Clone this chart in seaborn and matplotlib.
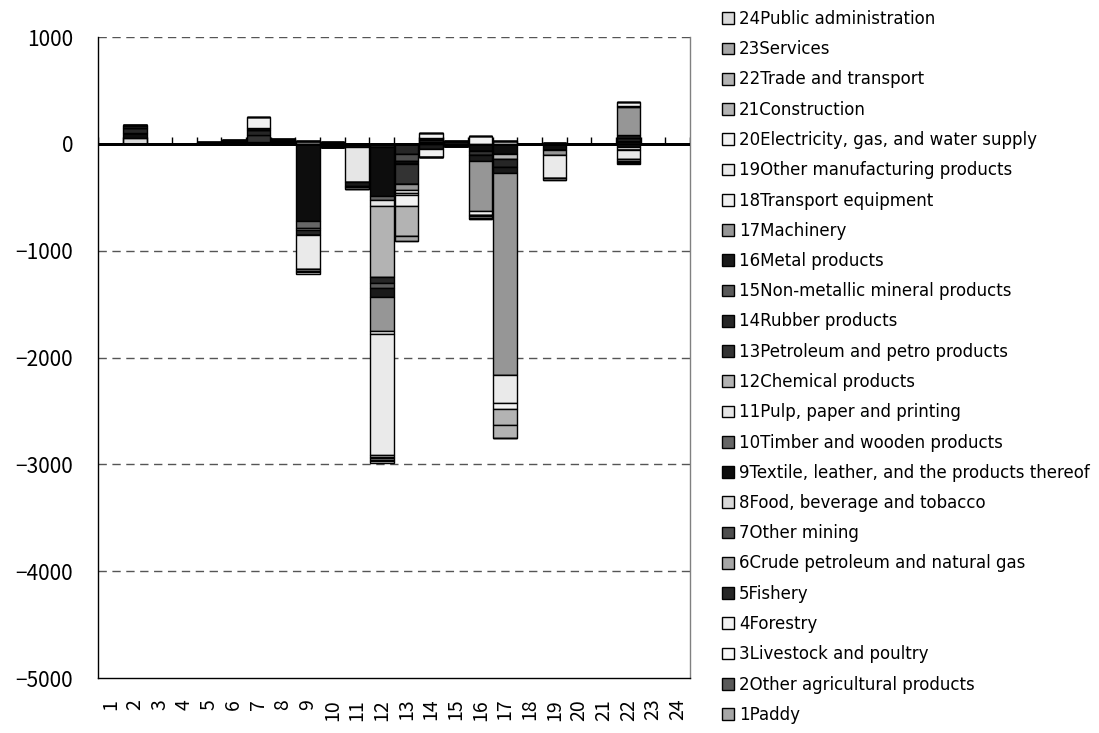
import numpy as np
import matplotlib
matplotlib.use("Agg")
import matplotlib.pyplot as plt
from matplotlib.patches import Patch
import seaborn as sns

# sectors (x categories and stacked series share the same 24 sectors)
sectors = ["Paddy", "Other agricultural products", "Livestock and poultry", "Forestry",
           "Fishery", "Crude petroleum and natural gas", "Other mining",
           "Food, beverage and tobacco", "Textile, leather, and the products thereof",
           "Timber and wooden products", "Pulp, paper and printing", "Chemical products",
           "Petroleum and petro products", "Rubber products", "Non-metallic mineral products",
           "Metal products", "Machinery", "Transport equipment",
           "Other manufacturing products", "Electricity, gas, and water supply",
           "Construction", "Trade and transport", "Services", "Public administration"]
categories = [str(i) for i in range(1, 25)]

# contribution of each series to each category
#         1    2  3  4   5   6    7   8     9    10    11     12     13   14   15   16     17  18   19  20  21   22  23  24
s1  = [   0,   0, 0, 0,  0,  0,   0,  0,    0,    0,    0,   -25,     0,   0,   0,   0,     0, 0,   0, 0, 0,   0, 0, 0]
s2  = [   0,   0, 0, 0,  0,  0,   0,  0,    0,    0,    0,     0,     0,   0,   0,   0,     0, 0,   0, 0, 0,   0, 0, 0]
s3  = [   0,   0, 0, 0,  0,  0,   0,  0,    0,    0,    0,     0,     0,   0,   0,   0,     0, 0,   0, 0, 0,   0, 0, 0]
s4  = [   0,   0, 0, 0,  0,  0,   0,  0,    0,    0,    0,     0,     0,   0,   0,   0,     0, 0,   0, 0, 0,   0, 0, 0]
s5  = [   0,   0, 0, 0,  0,  0,   0,  0,    0,    0,    0,     0,   -93,   0,   0,   0,     0, 0,   0, 0, 0, -31, 0, 0]
s6  = [   0,   0, 0, 0,  0,  0,   0,  0,    0,    0,    0,     0,     0,   0,   0,   0,     0, 0,   0, 0, 0,   0, 0, 0]
s7  = [   0,   0, 0, 0,  0,  0,   0,  0,    0,    0,    0,     0,   -72,   0,   0,   0,     0, 0,   0, 0, 0,   0, 0, 0]
s8  = [   0,  56, 0, 0,  0,  0,  22,  0,    0,    0,    0,     0,     0,   0,   0,   0,     0, 0,   0, 0, 0,   0, 0, 0]
s9  = [   0,  50, 0, 0,  0, 20,   0, 25, -726,  -30,  -25,  -467,   -22,  15, -20, -69,   -93, 0, -62, 0, 0,  30, 0, 0]
s10 = [   0,   0, 0, 0,  0,  0,   0,  0,  -59,    0,    0,   -37,     0,   0,   0,   0,     0, 0,   0, 0, 0,   0, 0, 0]
s11 = [   0,   0, 0, 0,  0,  0,   0,  0,  -19,    0, -335,   -56,     0,   0,   0,   0,     0, 0,   0, 0, 0, -25, 0, 0]
s12 = [   0,   0, 0, 0,  0,  0,   0,  0,    0,    0,    0,  -661,     0,   0,   0,   0,   -53, 0,   0, 0, 0,   0, 0, 0]
s13 = [   0,   0, 0, 0,  0,  0,  65,  0,    0,    0,    0,     0,  -187,  22,   0, -40,     0, 0,   0, 0, 0,   0, 0, 0]
s14 = [   0,  40, 0, 0,  0,  0,  44,  0,  -53,    0,    0,   -56,     0,  15,   0,   0,   -72, 0,   0, 0, 0,  25, 0, 0]
s15 = [   0,   0, 0, 0,  0,  0,   0,  0,    0,    0,    0,   -47,     0,   0,   0,   0,     0, 0,   0, 0, 0,   0, 0, 0]
s16 = [   0,  35, 0, 0, 15, 20,  18, 25,    0,   15,  -30,   -87,     0, -47,  30, -47,   -56, 0,  12, 0, 0,  29, 0, 0]
s17 = [   0,   0, 0, 0,  0,  0,   0,  0,   25,    0,  -15,  -318,   -62,   0,   0, -470, -1891, 0, -40, 0, 0, 259, 0, 0]
s18 = [   0,   0, 0, 0,  0,  0,   0,  0,    0,    0,    0,   -22,   -20, -72,   0, -37,    30, 0,   0, 0, 0,  15, 0, 0]
s19 = [   0,   0, 0, 0,  0,  0,   0,  0, -312,    0,    0, -1140,   -20,   0,   0,   0,  -259, 0,-218, 0, 0, -90, 0, 0]
s20 = [   0,   0, 0, 0,  0,  0, 100,  0,    0,    0,    0,   -13,  -109,  45,   0,  69,   -60, 0,   0, 0, 0,  30, 0, 0]
s21 = [   0,   0, 0, 0,  0,  0,   0,  0,    0,    0,    0,   -13,  -280,   0,   0, -15,  -147, 0,   0, 0, 0, -12, 0, 0]
s22 = [   0,   0, 0, 0,  0,  0,   0,  0,  -20,    0,  -20,   -13,     0,   0,   0, -12,  -118, 0,   0, 0, 0, -12, 0, 0]
s23 = [   0,   0, 0, 0,  0,  0,   0,  0,  -15,    0,    0,   -14,   -40,  -6,   0, -10,     0, 0, -22, 0, 0, -12, 0, 0]
s24 = [   0,   0, 0, 0,  0,  0,   0,  0,  -10,    0,    0,   -20,     0,   0,   0,   0,     0, 0,   0, 0, 0, -11, 0, 0]

series = [s1, s2, s3, s4, s5, s6, s7, s8, s9, s10, s11, s12,
          s13, s14, s15, s16, s17, s18, s19, s20, s21, s22, s23, s24]

colors = ["#a6a6a6", "#595959", "#fafafa", "#f2f2f2", "#262626", "#a6a6a6",
          "#4d4d4d", "#d9d9d9", "#0d0d0d", "#666666", "#e6e6e6", "#b3b3b3",
          "#333333", "#262626", "#595959", "#1a1a1a", "#969696", "#f0f0f0",
          "#eaeaea", "#f2f2f2", "#b3b3b3", "#b3b3b3", "#a6a6a6", "#d9d9d9"]

sns.set_style("white")
plt.rcParams["font.family"] = ["Noto Sans CJK JP", "DejaVu Sans"]
plt.rcParams["text.color"] = "black"

fig = plt.figure(figsize=(10.99, 7.33), dpi=100)
ax = fig.add_axes([0.0892, 0.075, 0.5387, 0.8745])

x = np.arange(1, 25)
pos_bottom = np.zeros(24)
neg_bottom = np.zeros(24)
for vals, col in zip(series, colors):
    v = np.array(vals, dtype=float)
    pos = np.where(v > 0, v, 0)
    neg = np.where(v < 0, v, 0)
    ax.bar(x, pos, bottom=pos_bottom, width=0.96, color=col,
           edgecolor="black", linewidth=1.0, zorder=3)
    ax.bar(x, neg, bottom=neg_bottom, width=0.96, color=col,
           edgecolor="black", linewidth=1.0, zorder=3)
    pos_bottom += pos
    neg_bottom += neg

ax.set_xlim(0.5, 24.5)
ax.set_ylim(-5000, 1000)
ax.set_yticks(range(-5000, 1001, 1000))
ax.tick_params(axis="y", direction="out", length=5, width=1, pad=13,
               labelsize=15, colors="black")
ax.set_xticks(x)
ax.set_xticklabels(categories, rotation=90, fontsize=14)
ax.tick_params(axis="x", length=0, pad=15, colors="black")

# dashed gridlines
for yv in [1000, -1000, -2000, -3000, -4000]:
    ax.axhline(yv, color="#555555", linestyle=(0, (6, 4)), linewidth=1, zorder=1)
ax.axhline(0, color="black", linewidth=1, zorder=4)
# category boundary ticks on the zero line
ax.vlines(np.arange(0.5, 25, 1), 0, 65, color="black", linewidth=1, zorder=4)

ax.spines["top"].set_visible(False)
ax.spines["right"].set_color("#808080")
ax.spines["left"].set_color("black")
ax.spines["bottom"].set_color("black")
for s in ["left", "bottom", "right"]:
    ax.spines[s].set_linewidth(1)

handles = [Patch(facecolor=c, edgecolor="black", linewidth=1.0) for c in colors]
labels = [f"{i}{name}" for i, name in enumerate(sectors, start=1)]
leg = fig.legend(handles[::-1], labels[::-1], loc="upper left", bbox_to_anchor=(0.648, 1.0),
                 frameon=False, prop={"family": "DejaVu Sans", "size": 12},
                 labelspacing=0.735, handlelength=0.7, handleheight=0.7,
                 handletextpad=0.3, borderaxespad=0.2)
for t in leg.get_texts():
    t.set_color("black")

fig.savefig("out.png", dpi=100)
